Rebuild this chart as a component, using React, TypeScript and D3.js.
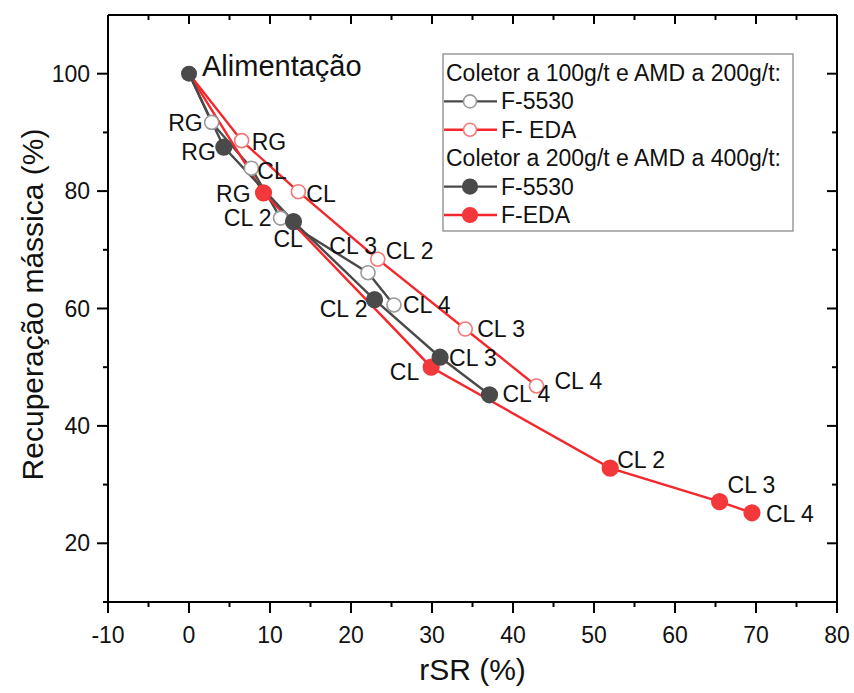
import React from 'react';
import * as d3 from 'd3';

// feed point (shared start of every curve)
const feedLabel = 'Alimentação';
const feedRSR = 0;
const feedRec = 100;

// cleaning stages, same order in every series
const stages = ['RG', 'CL', 'CL 2', 'CL 3', 'CL 4'];

// collector 100 g/t, AMD 200 g/t
const f5530LowRSR = [2.8, 7.7, 11.3, 22.1, 25.3];
const f5530LowRec = [91.7, 83.9, 75.4, 66.1, 60.6];
const edaLowRSR = [6.5, 13.5, 23.3, 34.1, 42.9];
const edaLowRec = [88.6, 79.9, 68.4, 56.5, 46.8];

// collector 200 g/t, AMD 400 g/t
const f5530HighRSR = [4.3, 12.9, 22.9, 31.0, 37.1];
const f5530HighRec = [87.5, 74.8, 61.5, 51.7, 45.3];
const edaHighRSR = [9.2, 29.9, 52.0, 65.5, 69.5];
const edaHighRec = [79.7, 50.0, 32.8, 27.1, 25.2];

const legendHeaders = ['Coletor a 100g/t e AMD a 200g/t:', 'Coletor a 200g/t e AMD a 400g/t:'];

// label placement next to each point: [dx, dy, anchor]
type Off = [number, number, 'start' | 'end'];
const offF5530Low: Off[] = [[-9, 9, 'end'], [6, 11, 'start'], [-9, 8, 'end'], [9, -19, 'end'], [9, 8, 'start']];
const offEdaLow: Off[] = [[10, 9, 'start'], [8, 10, 'start'], [8, 0, 'start'], [12, 8, 'start'], [18, 3, 'start']];
const offF5530High: Off[] = [[-8, 13, 'end'], [-20, 25, 'start'], [-7, 17, 'end'], [9, 9, 'start'], [13, 7, 'start']];
const offEdaHigh: Off[] = [[-13, 9, 'end'], [-12, 13, 'end'], [7, 0, 'start'], [8, -9, 'start'], [14, 9, 'start']];

const FONT = 'Liberation Sans, Arial, Helvetica, sans-serif';
const DARK = '#4a4a4a';
const RED = '#f4282c';
const RED_FILL = '#f2383b';

const x = d3.scaleLinear().domain([-10, 80]).range([108, 837]);
const y = d3.scaleLinear().domain([10, 110]).range([602, 15]);

const series = [
  { name: 'F-5530', xs: f5530LowRSR, ys: f5530LowRec, line: DARK, fill: '#fff', stroke: '#9a9a9a', r: 7, off: offF5530Low },
  { name: 'F- EDA', xs: edaLowRSR, ys: edaLowRec, line: RED, fill: '#fff', stroke: '#f07a7a', r: 7, off: offEdaLow },
  { name: 'F-EDA', xs: edaHighRSR, ys: edaHighRec, line: RED, fill: RED_FILL, stroke: RED_FILL, r: 7.8, off: offEdaHigh },
  { name: 'F-5530', xs: f5530HighRSR, ys: f5530HighRec, line: DARK, fill: DARK, stroke: DARK, r: 7.8, off: offF5530High },
];

const line = d3.line<[number, number]>().x(d => x(d[0])).y(d => y(d[1]));

export default function App() {
  const [x0, x1] = x.range();
  const [y0, y1] = y.range();
  const xMajor = d3.range(-10, 81, 10);
  const xMinor = d3.range(-5, 80, 10);
  const yMajor = d3.range(20, 101, 20);
  const yMinor = d3.range(10, 111, 10).filter(v => v % 20 !== 0 && v > 10 && v < 110);

  // legend rows: header, low F-5530, low EDA, header, high F-5530, high EDA
  const legendRows = [
    { text: legendHeaders[0] },
    { text: series[0].name, s: series[0] },
    { text: series[1].name, s: series[1] },
    { text: legendHeaders[1] },
    { text: series[3].name, s: series[3] },
    { text: series[2].name, s: series[2] },
  ];

  return (
    <svg width={854} height={693} style={{ position: 'absolute', left: 0, top: 0 }} fontFamily={FONT}>
      <rect width={854} height={693} fill="#fff" />

      {/* frame */}
      <g stroke="#000" strokeWidth={2} fill="none">
        <line x1={x0 - 5} x2={x1} y1={y0} y2={y0} />
        <line x1={x0} x2={x1} y1={y1} y2={y1} />
        <line x1={x0} x2={x0} y1={y1} y2={y0} />
        <line x1={x1} x2={x1} y1={y1} y2={y0 + 10} />
        {xMajor.map(v => (
          <g key={'xM' + v}>
            <line x1={x(v)} x2={x(v)} y1={y0} y2={y0 + 11} />
            <line x1={x(v)} x2={x(v)} y1={y1} y2={y1 + 9} />
          </g>
        ))}
        {xMinor.map(v => (
          <g key={'xm' + v}>
            <line x1={x(v)} x2={x(v)} y1={y0} y2={y0 + 5} />
            <line x1={x(v)} x2={x(v)} y1={y1} y2={y1 + 5} />
          </g>
        ))}
        {yMajor.map(v => (
          <g key={'yM' + v}>
            <line x1={x0 - 11} x2={x0} y1={y(v)} y2={y(v)} />
            <line x1={x1 - 10} x2={x1} y1={y(v)} y2={y(v)} />
          </g>
        ))}
        {yMinor.map(v => (
          <g key={'ym' + v}>
            <line x1={x0 - 5} x2={x0} y1={y(v)} y2={y(v)} />
            <line x1={x1 - 5} x2={x1} y1={y(v)} y2={y(v)} />
          </g>
        ))}
      </g>

      {/* tick labels */}
      <g fontSize={23} fill="#111">
        {xMajor.map(v => (
          <text key={'xl' + v} x={x(v)} y={643} textAnchor="middle">{v}</text>
        ))}
        {yMajor.map(v => (
          <text key={'yl' + v} x={90} y={y(v) + 8} textAnchor="end">{v}</text>
        ))}
      </g>

      {/* axis titles */}
      <text x={(x0 + x1) / 2} y={680} textAnchor="middle" fontSize={30} fill="#111">rSR (%)</text>
      <text transform={`translate(43,${(y0 + y1) / 2 - 4}) rotate(-90)`} textAnchor="middle" fontSize={30} fill="#111">
        Recuperação mássica (%)
      </text>

      {/* lines */}
      {series.map((s, i) => {
        const pts: [number, number][] = [[feedRSR, feedRec], ...s.xs.map((v, j) => [v, s.ys[j]] as [number, number])];
        return <path key={'ln' + i} d={line(pts) || ''} fill="none" stroke={s.line} strokeWidth={2.4} />;
      })}

      {/* markers */}
      {series.map((s, i) => (
        <g key={'mk' + i}>
          {s.xs.map((v, j) => (
            <circle key={j} cx={x(v)} cy={y(s.ys[j])} r={s.r} fill={s.fill} stroke={s.stroke} strokeWidth={1.6} />
          ))}
        </g>
      ))}
      <circle cx={x(feedRSR)} cy={y(feedRec)} r={8} fill={DARK} />

      {/* point labels */}
      <g fontSize={23} fill="#111">
        {series.map((s, i) => (
          <g key={'lb' + i}>
            {s.xs.map((v, j) => (
              <text key={j} x={x(v) + s.off[j][0]} y={y(s.ys[j]) + s.off[j][1]} textAnchor={s.off[j][2]}>
                {stages[j]}
              </text>
            ))}
          </g>
        ))}
        <text x={x(feedRSR) + 13} y={y(feedRec) + 2} fontSize={29}>{feedLabel}</text>
      </g>

      {/* legend */}
      <g>
        <rect x={443} y={54} width={350} height={177} fill="#fff" stroke="#8a8a8a" strokeWidth={1.3} />
        {legendRows.map((row, i) => {
          const cy = 73 + i * 28.4;
          if (!row.s) {
            return (
              <text key={i} x={446} y={cy + 8} fontSize={23} fill="#111">{row.text}</text>
            );
          }
          const s = row.s;
          return (
            <g key={i}>
              <line x1={444} x2={497} y1={cy} y2={cy} stroke={s.line} strokeWidth={2.4} />
              <circle cx={470} cy={cy} r={s.r - 0.5} fill={s.fill} stroke={s.stroke} strokeWidth={1.6} />
              <text x={501} y={cy + 8} fontSize={23} fill="#111">{row.text}</text>
            </g>
          );
        })}
      </g>
    </svg>
  );
}
